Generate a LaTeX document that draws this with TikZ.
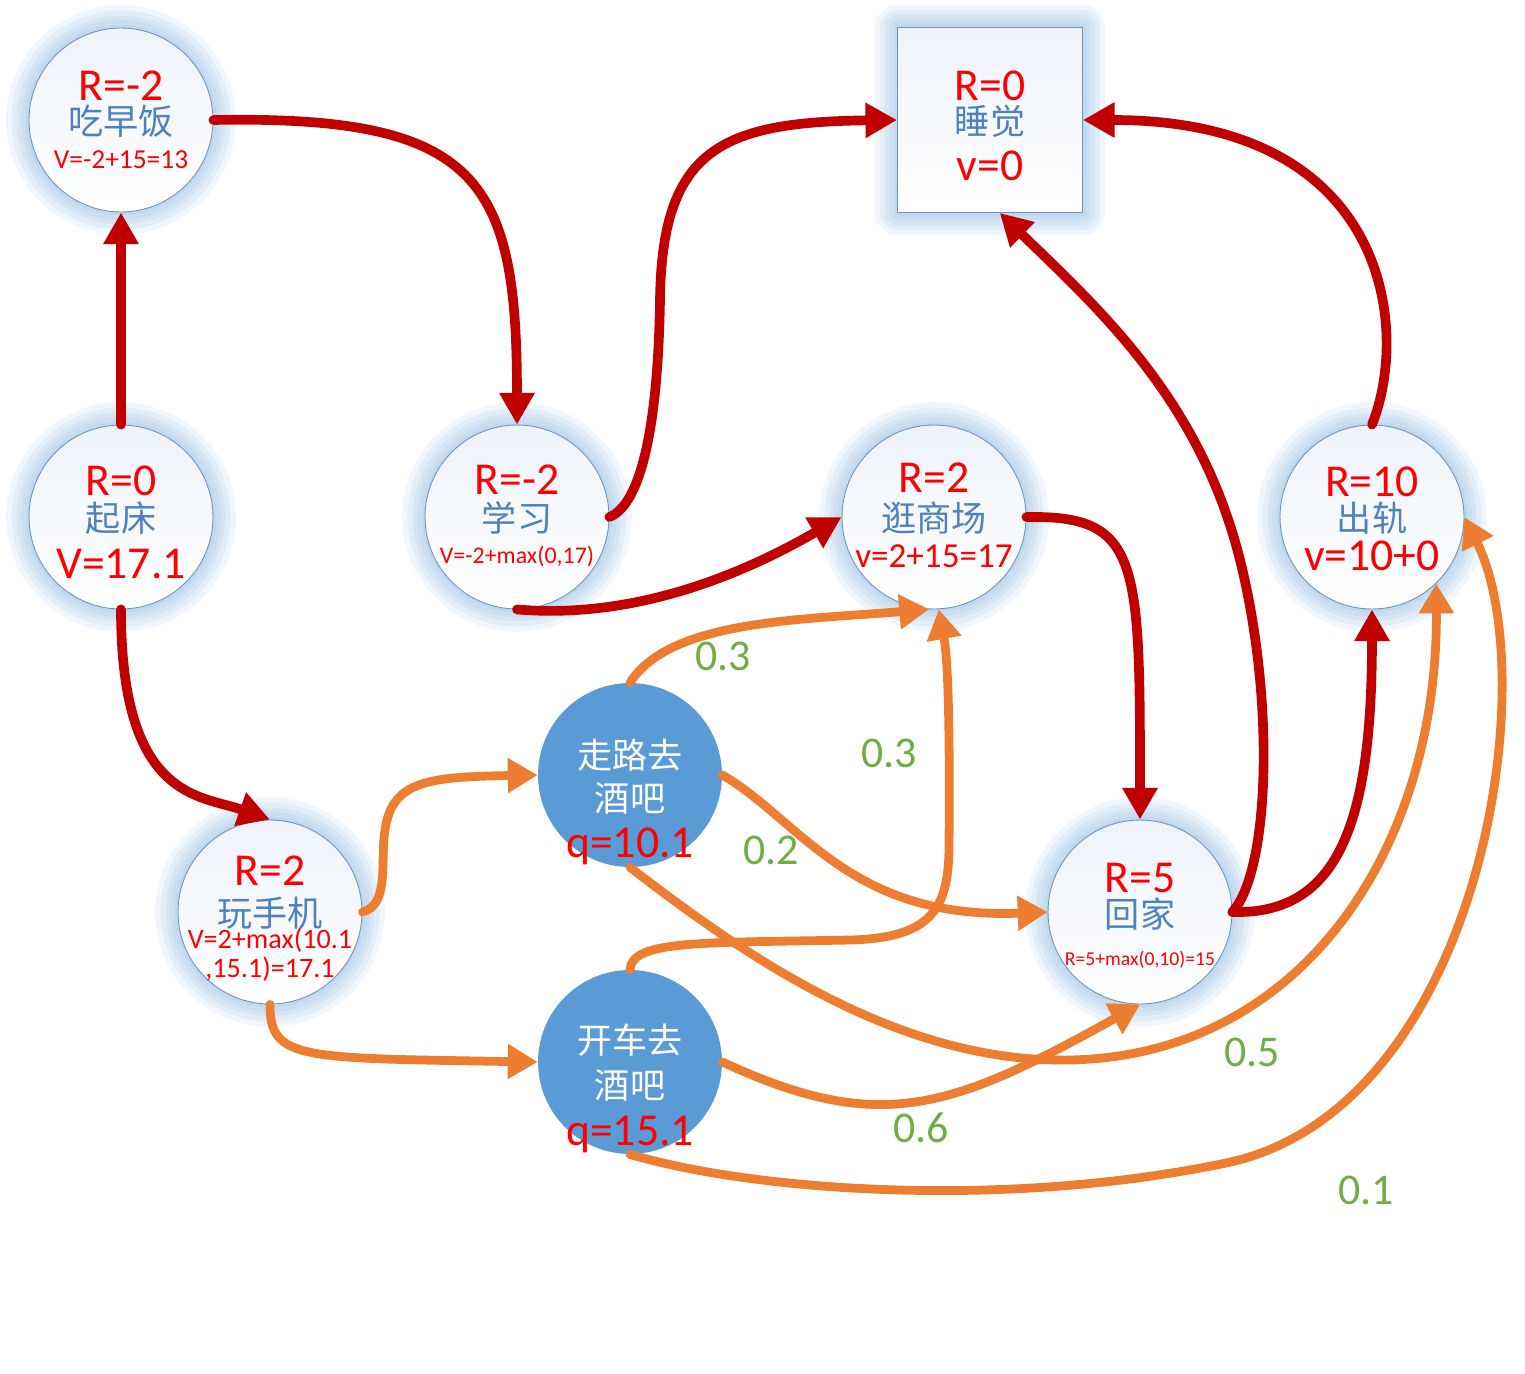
\documentclass[tikz,border=0pt]{standalone}
\usepackage{fontspec}
\setmainfont{Carlito}
\newfontfamily\cjk{Noto Sans CJK SC}
\usetikzlibrary{arrows.meta}
\definecolor{edgered}{HTML}{C00000}
\definecolor{edgeorange}{HTML}{ED7D31}
\definecolor{probgreen}{HTML}{70AD47}
\definecolor{nodeblue}{HTML}{5B9BD5}
\definecolor{glowblue}{HTML}{9DC3E6}
\definecolor{rimblue}{HTML}{6F93BF}
\definecolor{namecol}{HTML}{4F81BD}
\definecolor{valred}{HTML}{FF0000}
\definecolor{paleblue}{HTML}{EEF3FA}
\begin{document}
\begin{tikzpicture}[x=0.02cm,y=-0.02cm,line cap=round,line join=round,
  glow/.style={preaction={draw=glowblue,line width=26pt,draw opacity=0.15},
    preaction={draw=glowblue,line width=20pt,draw opacity=0.18},
    preaction={draw=glowblue,line width=14pt,draw opacity=0.18},
    preaction={draw=glowblue,line width=9pt,draw opacity=0.2},
    preaction={draw=glowblue,line width=4pt,draw opacity=0.2}},
  stnode/.style={circle,glow,draw=rimblue,line width=0.5pt,top color=paleblue,bottom color=white,minimum size=3.68cm,inner sep=0pt},
  endnode/.style={rectangle,glow,draw=rimblue,line width=0.5pt,top color=paleblue,bottom color=white,minimum size=3.7cm,inner sep=0pt},
  actnode/.style={circle,fill=nodeblue,minimum size=3.68cm,inner sep=0pt},
  rtxt/.style={anchor=base,inner sep=0pt,text=valred,font=\fontsize{26}{30}\selectfont},
  ntxt/.style={inner sep=0pt,text=namecol,font=\cjk\fontsize{20}{24}\selectfont},
  wtxt/.style={ntxt,text=white},
  vtxt/.style={anchor=base,inner sep=0pt,text=valred,font=\fontsize{#1}{#1}\selectfont},
  ptxt/.style={inner sep=0pt,text=probgreen,font=\fontsize{25}{30}\selectfont},
  redarr/.style={draw=edgered,line width=5.5pt,-{Triangle[length=18pt,width=19pt]}},
  orarr/.style={draw=edgeorange,line width=5pt,-{Triangle[length=17pt,width=19pt]}}]
\useasboundingbox (0,0) rectangle (1525,1373);
\node[stnode] (breakfast) at (121,120) {};
\node[stnode] (getup) at (121,517) {};
\node[stnode] (study) at (517,517) {};
\node[stnode] (mall) at (934,517) {};
\node[stnode] (cheat) at (1372,517) {};
\node[stnode] (phone) at (270,912) {};
\node[stnode] (home) at (1140,912) {};
\node[endnode] (sleep) at (990,120) {};
\node[actnode] (walk) at (630,775) {};
\node[actnode] (drive) at (630,1062) {};

\draw[redarr] (getup.north) -- (breakfast.south);
\draw[redarr] (breakfast.east) .. controls (480,115) and (517,180) .. (study.north);
\draw[redarr] (study.east) .. controls (640,505) and (658,430) .. (660,300) .. controls (662,150) and (720,122) .. (sleep.west);
\draw[redarr] (study.south) .. controls (640,620) and (750,570) .. (mall.west);
\draw[redarr] (getup.south) .. controls (121,800) and (200,795) .. (phone.north);
\draw[redarr] (mall.east) .. controls (1140,515) and (1140,560) .. (home.north);
\draw[redarr] (home.east) .. controls (1270,870) and (1275,700) .. (1240,560) .. controls (1200,400) and (1100,310) .. (sleep.-84);
\draw[redarr] (home.east) .. controls (1340,915) and (1372,820) .. (cheat.south);
\draw[redarr] (cheat.north) .. controls (1410,330) and (1390,120) .. (sleep.east);

\draw[orarr] (phone.east) .. controls (390,905) and (380,860) .. (385,830) .. controls (392,780) and (430,777) .. (walk.west);
\draw[orarr] (phone.south) .. controls (270,1060) and (300,1058) .. (drive.west);
\draw[orarr] (walk.north) .. controls (670,620) and (800,620) .. (mall.-93);
\draw[orarr] (walk.east) .. controls (800,820) and (850,920) .. (home.west);
\draw[orarr] (walk.south) .. controls (750,960) and (900,1062) .. (1068,1060) .. controls (1300,1057) and (1438,850) .. (cheat.-46);
\draw[orarr] (drive.north) .. controls (632,940) and (700,943) .. (850,940) .. controls (930,938) and (948,910) .. (949,850) .. controls (950,720) and (948,660) .. (mall.-87);
\draw[orarr] (drive.east) .. controls (880,1135) and (950,1110) .. (home.south);
\draw[orarr] (drive.south) .. controls (750,1190) and (1000,1210) .. (1226,1163) .. controls (1480,1110) and (1545,680) .. (cheat.east);

\node[rtxt] (breakfastR) at (121,100) {R=-2};
\node[ntxt] (breakfastN) at (121,121) {吃早饭};
\node[vtxt=15.6] (breakfastV) at (121,168) {V=-2+15=13};
\node[rtxt] (getupR) at (121,495) {R=0};
\node[ntxt] (getupN) at (121,518) {起床};
\node[vtxt=26] (getupV) at (121,578) {V=17.1};
\node[rtxt] (studyR) at (517,494) {R=-2};
\node[ntxt] (studyN) at (517,518) {学习};
\node[vtxt=13.6] (studyV) at (517,563) {V=-2+max(0,17)};
\node[rtxt] (mallR) at (934,492) {R=2};
\node[ntxt] (mallN) at (934,518) {逛商场};
\node[vtxt=20] (mallV) at (934,567) {v=2+15=17};
\node[rtxt] (cheatR) at (1372,496) {R=10};
\node[ntxt] (cheatN) at (1372,518) {出轨};
\node[vtxt=26] (cheatV) at (1372,570) {v=10+0};
\node[rtxt] (sleepR) at (990,100) {R=0};
\node[ntxt] (sleepN) at (990,121) {睡觉};
\node[vtxt=26] (sleepV) at (990,180) {v=0};
\node[rtxt] (phoneR) at (270,885) {R=2};
\node[ntxt] (phoneN) at (270,913) {玩手机};
\node[vtxt=16] (phoneV) at (270,948) {V=2+max(10.1};
\node[vtxt=16] (phoneW) at (270,977) {,15.1)=17.1};
\node[rtxt] (homeR) at (1140,892) {R=5};
\node[ntxt] (homeN) at (1140,914) {回家};
\node[vtxt=11.2] (homeV) at (1140,965) {R=5+max(0,10)=15};
\node[wtxt] (walkN) at (630,755) {走路去};
\node[wtxt] (walkM) at (630,798) {酒吧};
\node[vtxt=26] (walkQ) at (630,857) {q=10.1};
\node[wtxt] (driveN) at (630,1040) {开车去};
\node[wtxt] (driveM) at (630,1085) {酒吧};
\node[vtxt=26] (driveQ) at (630,1145) {q=15.1};

\node[ptxt] (p1) at (723,656) {0.3};
\node[ptxt] (p2) at (889,753) {0.3};
\node[ptxt] (p3) at (771,850) {0.2};
\node[ptxt] (p4) at (1252,1052) {0.5};
\node[ptxt] (p5) at (921,1128) {0.6};
\node[ptxt] (p6) at (1366,1190) {0.1};
\end{tikzpicture}
\end{document}
